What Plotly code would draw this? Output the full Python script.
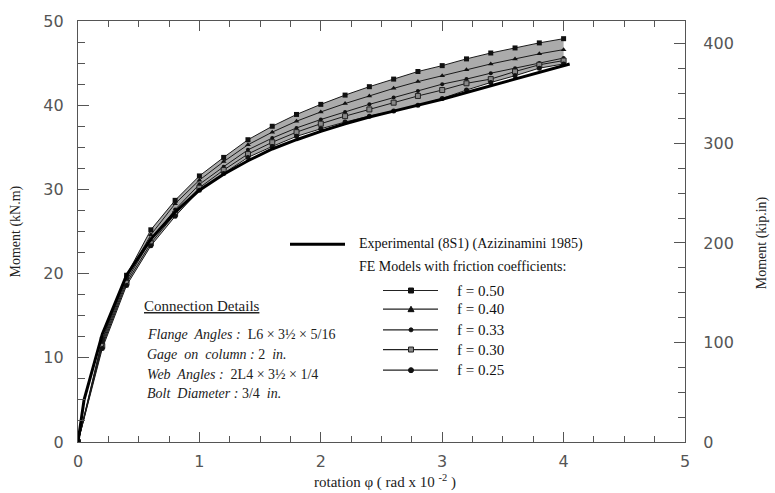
import plotly.graph_objects as go

# ---------------- data ----------------
rot_fe = [0, 0.2, 0.4, 0.6, 0.8, 1.0, 1.2, 1.4, 1.6, 1.8, 2.0, 2.2, 2.4, 2.6, 2.8, 3.0, 3.2, 3.4, 3.6, 3.8, 4.0]
m_f050 = [0, 12.2, 19.8, 25.2, 28.7, 31.6, 33.8, 35.9, 37.5, 38.9, 40.1, 41.2, 42.2, 43.1, 44.0, 44.7, 45.5, 46.2, 46.8, 47.4, 47.9]
m_f040 = [0, 12.0, 19.5, 24.6, 28.3, 31.1, 33.3, 35.3, 36.8, 38.1, 39.2, 40.2, 41.1, 42.0, 42.8, 43.5, 44.2, 44.9, 45.5, 46.1, 46.6]
m_f033 = [0, 11.7, 19.2, 24.0, 27.6, 30.6, 32.7, 34.7, 36.1, 37.3, 38.3, 39.2, 40.1, 40.9, 41.7, 42.5, 43.1, 43.8, 44.4, 45.0, 45.6]
m_f030 = [0, 11.4, 18.9, 23.6, 27.1, 30.2, 32.3, 34.2, 35.6, 36.8, 37.8, 38.7, 39.5, 40.3, 41.1, 41.8, 42.6, 43.1, 44.0, 44.8, 45.3]
m_f025 = [0, 11.1, 18.6, 23.3, 26.8, 29.9, 31.9, 33.8, 35.1, 36.3, 37.2, 38.0, 38.7, 39.3, 40.0, 40.8, 41.8, 42.7, 43.5, 44.4, 44.9]

rot_exp = [0, 0.05, 0.2, 0.4, 0.6, 0.8, 1.0, 1.2, 1.4, 1.6, 1.8, 2.0, 2.2, 2.4, 2.6, 2.8, 3.0, 3.2, 3.4, 3.6, 3.8, 4.05]
m_exp = [0, 5.0, 12.8, 19.8, 24.1, 27.3, 29.9, 31.8, 33.4, 34.8, 35.9, 36.9, 37.8, 38.6, 39.3, 40.0, 40.7, 41.5, 42.3, 43.1, 43.9, 44.9]

fe_labels = ["f = 0.50", "f = 0.40", "f = 0.33", "f = 0.30", "f = 0.25"]
exp_label = "Experimental (8S1) (Azizinamini 1985)"
fe_header = "FE Models with friction coefficients:"

x_title = "rotation \u03c6 ( rad x 10 <sup>-2</sup> )"
y_title = "Moment (kN.m)"
y2_title = "Moment (kip.in)"

details_title = "Connection Details"
details_lines = [
    "<i>Flange  Angles :</i>  L6 \u00d7 3\u00bd \u00d7 5/16",
    "<i>Gage  on  column :</i> 2  <i>in.</i>",
    "<i>Web  Angles :</i>  2L4 \u00d7 3\u00bd \u00d7 1/4",
    "<i>Bolt  Diameter :</i> 3/4  <i>in.</i>",
]

# ---------------- layout geometry ----------------
W, H = 775, 493
L, R, T, B = 78, 685, 14, 442  # plot area pixels
pw, ph = R - L, B - T


def px(xp):
    return (xp - L) / pw


def py(yp):
    return (B - yp) / ph


AX = "#555555"
SERIF = "Liberation Serif, Times New Roman, serif"
SANS = "DejaVu Sans, sans-serif"

fig = go.Figure()

# gray band between highest and lowest FE curves
fig.add_trace(go.Scatter(x=rot_fe, y=m_f025, mode="lines", line=dict(width=0),
                         showlegend=False, hoverinfo="skip"))
fig.add_trace(go.Scatter(x=rot_fe, y=m_f050, mode="lines", line=dict(width=0),
                         fill="tonexty", fillcolor="#ababab", showlegend=False, hoverinfo="skip"))

fe_series = [m_f050, m_f040, m_f033, m_f030, m_f025]
fe_markers = [
    dict(symbol="square", size=5, color="#111111"),
    dict(symbol="triangle-up", size=5, color="#111111"),
    dict(symbol="circle", size=4, color="#111111"),
    dict(symbol="square", size=5, color="#888888", line=dict(color="#222222", width=1)),
    dict(symbol="circle", size=5, color="#111111"),
]
for lab, ys, mk in zip(fe_labels, fe_series, fe_markers):
    fig.add_trace(go.Scatter(x=rot_fe, y=ys, mode="lines+markers", name=lab,
                             line=dict(color="#1a1a1a", width=1), marker=mk, showlegend=False))

fig.add_trace(go.Scatter(x=rot_exp, y=m_exp, mode="lines", name=exp_label,
                         line=dict(color="#000000", width=3), showlegend=False))

# dummy trace to activate secondary axis
fig.add_trace(go.Scatter(x=[0], y=[0], yaxis="y2", mode="markers", marker=dict(opacity=0),
                         showlegend=False, hoverinfo="skip"))

shapes = []
annotations = []

# ---- custom legend ----
shapes.append(dict(type="line", xref="paper", yref="paper", x0=px(290), x1=px(345), y0=py(241), y1=py(241),
                   line=dict(color="black", width=3)))
annotations.append(dict(xref="paper", yref="paper", x=px(357), y=py(241), xanchor="left", yanchor="middle",
                        text=exp_label, showarrow=False, font=dict(family=SERIF, size=14, color="#111")))
annotations.append(dict(xref="paper", yref="paper", x=px(357), y=py(264), xanchor="left", yanchor="middle",
                        text=fe_header, showarrow=False, font=dict(family=SERIF, size=14, color="#111")))
leg_y = [288, 307, 328, 348, 369]
for lab, ly, mk in zip(fe_labels, leg_y, fe_markers):
    shapes.append(dict(type="line", xref="paper", yref="paper", x0=px(383), x1=px(438), y0=py(ly), y1=py(ly),
                       line=dict(color="#222", width=1.2)))
    s = mk["size"]
    common = dict(xref="paper", yref="paper", xsizemode="pixel", ysizemode="pixel",
                  xanchor=px(411), yanchor=py(ly),
                  fillcolor=mk["color"], line=dict(color=mk.get("line", {}).get("color", mk["color"]), width=1))
    if mk["symbol"] == "square":
        shapes.append(dict(type="rect", x0=-s / 2, x1=s / 2, y0=-s / 2, y1=s / 2, **common))
    elif mk["symbol"] == "circle":
        shapes.append(dict(type="circle", x0=-s / 2, x1=s / 2, y0=-s / 2, y1=s / 2, **common))
    else:
        xa, ya = px(411), py(ly)
        shapes.append(dict(type="path", xref="paper", yref="paper",
                           path="M %f,%f L %f,%f L %f,%f Z" % (xa - 3 / pw, ya - 2.5 / ph, xa + 3 / pw, ya - 2.5 / ph, xa, ya + 3 / ph),
                           fillcolor=mk["color"], line=dict(color=mk["color"], width=1)))
    annotations.append(dict(xref="paper", yref="paper", x=px(455), y=py(ly), xanchor="left", yanchor="middle",
                            text=lab, showarrow=False, font=dict(family=SERIF, size=15, color="#111")))

# ---- connection details ----
annotations.append(dict(xref="paper", yref="paper", x=px(142), y=py(304), xanchor="left", yanchor="middle",
                        text="<u>" + details_title + "</u>", showarrow=False,
                        font=dict(family=SERIF, size=15, color="#222")))
for i, t in enumerate(details_lines):
    annotations.append(dict(xref="paper", yref="paper", x=px(145), y=py(333 + 20 * i), xanchor="left",
                            yanchor="middle", text=t, showarrow=False,
                            font=dict(family=SERIF, size=14, color="#222")))

# ---- axis titles ----
annotations.append(dict(xref="paper", yref="paper", x=px(15), y=py(228), xanchor="center", yanchor="middle",
                        text=y_title, textangle=-90, showarrow=False,
                        font=dict(family=SERIF, size=14, color="#222")))
annotations.append(dict(xref="paper", yref="paper", x=px(762), y=py(240), xanchor="center", yanchor="middle",
                        text=y2_title, textangle=-90, showarrow=False,
                        font=dict(family=SERIF, size=14, color="#222")))
annotations.append(dict(xref="paper", yref="paper", x=px(385), y=py(482), xanchor="center", yanchor="middle",
                        text=x_title, showarrow=False,
                        font=dict(family=SERIF, size=15, color="#222")))

fig.update_layout(
    width=W, height=H,
    margin=dict(l=L, r=W - R, t=T, b=H - B, pad=0),
    paper_bgcolor="white", plot_bgcolor="white",
    showlegend=False,
    shapes=shapes, annotations=annotations,
    xaxis=dict(range=[0, 5], dtick=1, tick0=0, showgrid=False, zeroline=False,
               showline=True, linecolor=AX, linewidth=1.3, mirror="ticks",
               ticks="inside", ticklen=10, tickwidth=1.2, tickcolor=AX,
               minor=dict(dtick=0.25, ticks="inside", ticklen=6, tickwidth=1, tickcolor=AX),
               tickfont=dict(family=SANS, size=16, color="#555"), ticklabelstandoff=5),
    yaxis=dict(range=[0, 50], dtick=10, tick0=0, showgrid=False, zeroline=False,
               showline=True, linecolor=AX, linewidth=1.3,
               ticks="inside", ticklen=11, tickwidth=1.2, tickcolor=AX,
               minor=dict(dtick=2.5, ticks="inside", ticklen=7, tickwidth=1, tickcolor=AX),
               tickfont=dict(family=SANS, size=16, color="#555"), ticklabelstandoff=10),
    yaxis2=dict(range=[0, 423], dtick=100, tick0=0, overlaying="y", side="right",
                showgrid=False, zeroline=False,
                showline=True, linecolor=AX, linewidth=1.3,
                ticks="inside", ticklen=11, tickwidth=1.2, tickcolor=AX,
                minor=dict(dtick=25, ticks="inside", ticklen=7, tickwidth=1, tickcolor=AX),
                tickfont=dict(family=SANS, size=16, color="#555"), ticklabelstandoff=14),
)

fig.write_html("out.html")
